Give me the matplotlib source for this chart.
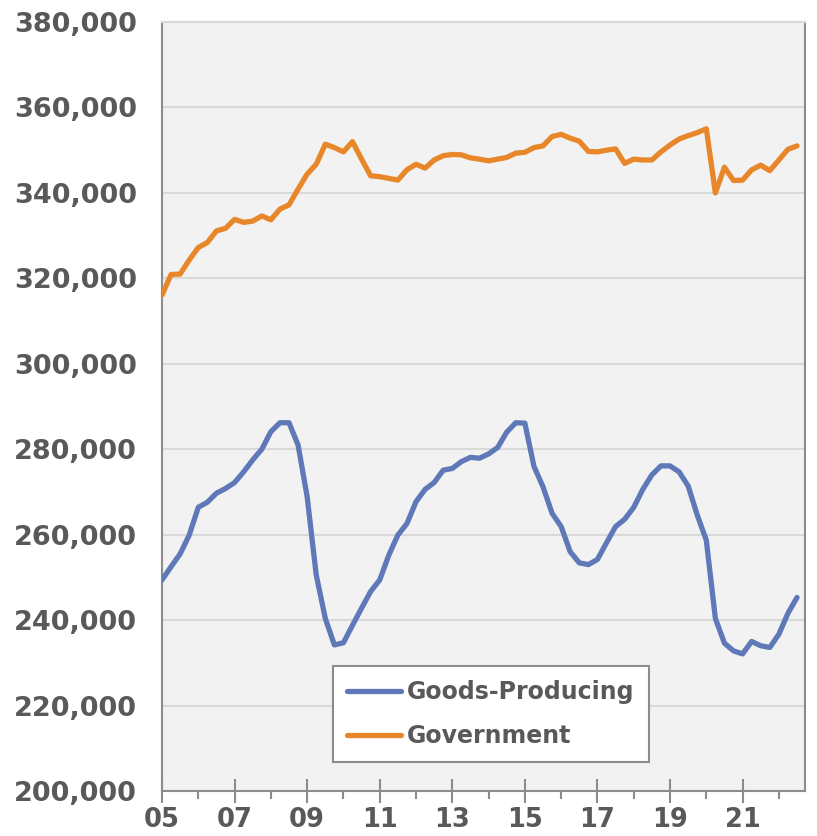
import numpy as np
import matplotlib
matplotlib.use("Agg")
import matplotlib.pyplot as plt
from matplotlib.ticker import FuncFormatter, FixedLocator

# Quarterly data, 2005 Q1 .. 2022 Q3 (thousands)
goods_producing = [249.4, 252.5, 255.5, 259.9, 266.4, 267.6, 269.7, 270.8, 272.2, 274.7,
                   277.5, 280.0, 284.1, 286.2, 286.2, 281.0, 268.9, 250.6, 240.4, 234.2,
                   234.7, 238.8, 242.8, 246.7, 249.4, 255.2, 259.9, 262.6, 267.7, 270.6,
                   272.2, 275.1, 275.5, 277.1, 278.1, 277.9, 278.9, 280.4, 284.0, 286.2,
                   286.1, 276.0, 271.2, 265.0, 261.9, 256.0, 253.4, 253.0, 254.2, 258.1,
                   261.9, 263.6, 266.4, 270.6, 274.0, 276.1, 276.1, 274.7, 271.4, 264.6,
                   258.7, 240.4, 234.6, 232.8, 232.1, 235.0, 234.0, 233.6, 236.7, 241.6,
                   245.3]
government = [316.1, 320.9, 321.0, 324.3, 327.2, 328.4, 331.1, 331.7, 333.8, 333.1,
              333.4, 334.6, 333.7, 336.2, 337.2, 340.9, 344.4, 346.7, 351.4, 350.6,
              349.6, 352.0, 347.9, 344.0, 343.8, 343.4, 343.0, 345.4, 346.7, 345.8,
              347.7, 348.7, 349.0, 348.9, 348.2, 347.9, 347.5, 347.9, 348.3, 349.3,
              349.5, 350.6, 351.0, 353.2, 353.7, 352.8, 352.1, 349.7, 349.6, 350.0,
              350.3, 346.9, 347.9, 347.7, 347.7, 349.6, 351.2, 352.6, 353.4, 354.1,
              355.0, 340.0, 346.0, 342.9, 343.0, 345.4, 346.5, 345.2, 347.7, 350.2,
              351.0]
series_names = ["Goods-Producing", "Government"]
start_year = 2005
major_years = [2005, 2007, 2009, 2011, 2013, 2015, 2017, 2019, 2021]
minor_years = [2006, 2008, 2010, 2012, 2014, 2016, 2018, 2020, 2022]
x_labels = ["05", "07", "09", "11", "13", "15", "17", "19", "21"]
y_ticks = [200000, 220000, 240000, 260000, 280000, 300000, 320000, 340000, 360000, 380000]

n = len(goods_producing)
x = start_year + np.arange(n) / 4.0
gp = np.array(goods_producing) * 1000
gov = np.array(government) * 1000

BLUE = "#5F78B8"
ORANGE = "#E8872A"
TXT = "#595959"
GRID = "#D9D9D9"
SPINE = "#8C8C8C"

fig = plt.figure(figsize=(8.17, 8.36), dpi=100)
ax = fig.add_axes([162 / 817, 1 - 791 / 836, (805 - 162) / 817, (791 - 22) / 836])
ax.set_facecolor("#F2F2F2")

ax.plot(x, gp, color=BLUE, lw=3.8, solid_joinstyle="round", solid_capstyle="round",
        label=series_names[0], zorder=3)
ax.plot(x, gov, color=ORANGE, lw=3.8, solid_joinstyle="round", solid_capstyle="round",
        label=series_names[1], zorder=3)

ax.set_xlim(2005, 2022.72)
ax.set_ylim(200000, 380000)
ax.yaxis.set_major_locator(FixedLocator(y_ticks))
ax.yaxis.set_major_formatter(FuncFormatter(lambda v, p: f"{int(v):,}"))
ax.grid(axis="y", color=GRID, lw=1.5, zorder=0)
ax.set_axisbelow(True)

ax.set_xticks(major_years)
ax.set_xticklabels(x_labels)
ax.set_xticks(minor_years, minor=True)

ax.tick_params(axis="y", length=0, pad=18, labelsize=19.5, labelcolor=TXT)
for lab in ax.get_yticklabels():
    lab.set_fontweight("bold")
ax.tick_params(axis="x", which="major", direction="inout", length=17, width=1.5,
               color=SPINE, pad=3, labelsize=18.5, labelcolor=TXT)
ax.tick_params(axis="x", which="minor", direction="out", length=6, width=1.5, color=SPINE)
for lab in ax.get_xticklabels():
    lab.set_fontweight("bold")

for s in ["left", "bottom", "right"]:
    ax.spines[s].set_color(SPINE)
    ax.spines[s].set_linewidth(1.5)
ax.spines["top"].set_color(GRID)
ax.spines["top"].set_linewidth(1.5)

leg = ax.legend(loc="upper left", bbox_to_anchor=((333 - 162) / 643, (791 - 666) / 769),
                frameon=True, fancybox=False, edgecolor=SPINE, facecolor="white",
                framealpha=1, handlelength=2.3, handletextpad=0.25, labelspacing=0.85,
                borderpad=0.6, borderaxespad=0,
                prop={"weight": "bold", "size": 17})
leg.get_frame().set_linewidth(1.5)
for t in leg.get_texts():
    t.set_color(TXT)

fig.savefig("out.png", dpi=100, facecolor="white")
